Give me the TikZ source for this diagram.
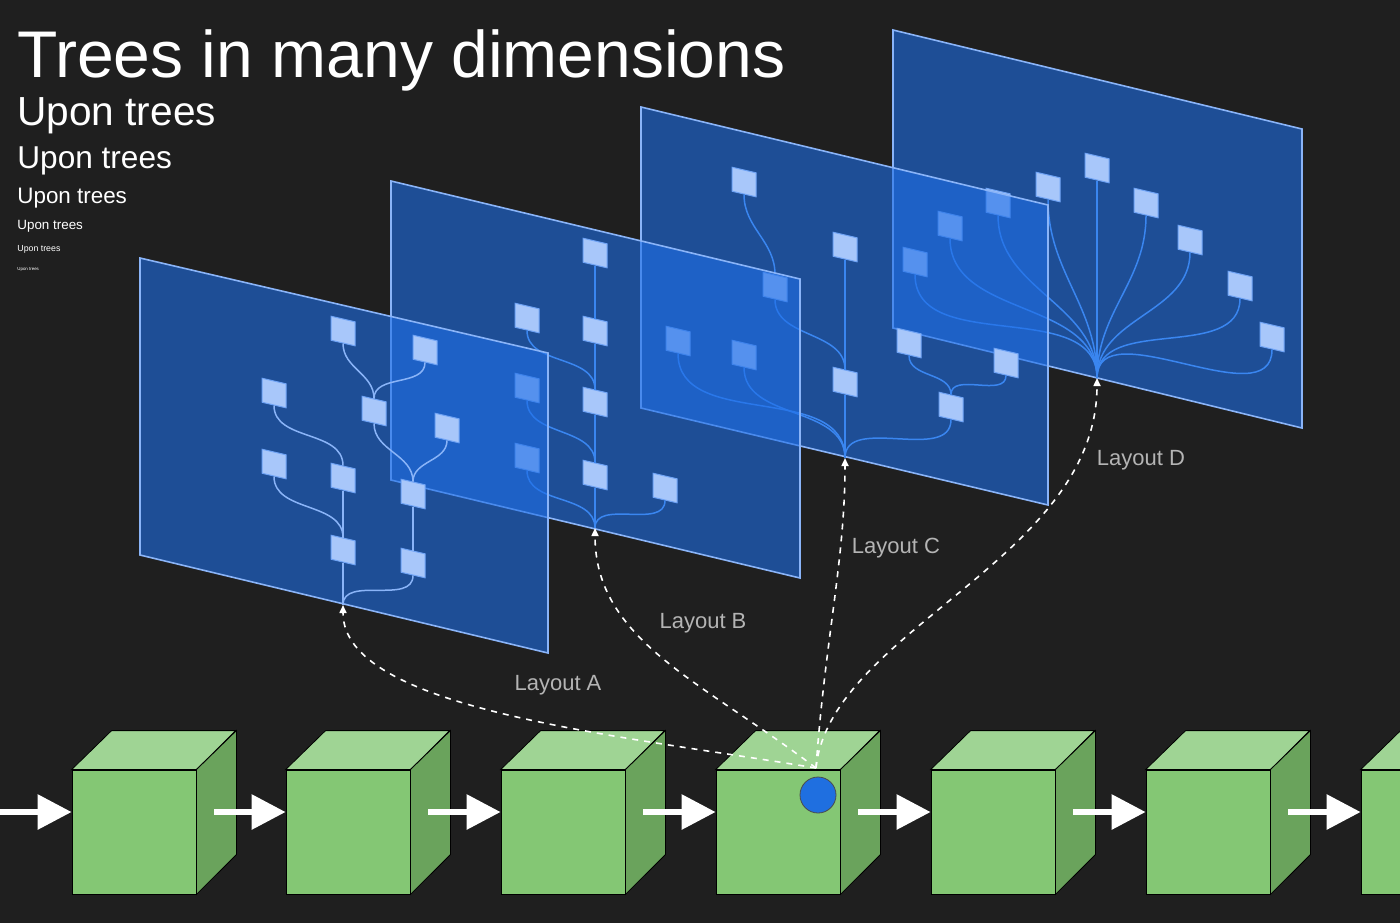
\documentclass[tikz,border=0pt]{standalone}
\usepackage{fontspec}
\setmainfont{Liberation Sans}
\usetikzlibrary{arrows.meta}
\definecolor{bg}{HTML}{1F1F1F}
\definecolor{pl}{HTML}{1E6EE6}
\definecolor{plb}{HTML}{8AB4F8}
\definecolor{nf}{HTML}{A8C7FA}
\definecolor{nb}{HTML}{6FA3F5}
\definecolor{ea}{HTML}{8AB4F8}
\definecolor{eb}{HTML}{3A86F0}
\definecolor{gf}{HTML}{84C774}
\definecolor{gt}{HTML}{9FD494}
\definecolor{gs}{HTML}{6AA35C}
\definecolor{dot}{HTML}{1F6FE0}
\definecolor{lab}{HTML}{B4B4B4}
\begin{document}
\begin{tikzpicture}[x=0.5pt,y=-0.5pt,
  plane/.style={fill=pl,fill opacity=0.6,draw=plb,line width=0.8pt},
  tn/.style={rectangle,minimum size=12pt,inner sep=0pt,fill=nf,draw=nb,line width=0.5pt,yslant=-0.233,transform shape},
  e/.style={line width=0.75pt},
  lay/.style={dashed,draw=white,line width=0.8pt,-{Triangle[length=4pt,width=3.5pt]}},
  big/.style={draw=white,line width=3pt,-{Triangle[length=17pt,width=17pt]}},
  cube/.style={rectangle,minimum size=62pt,inner sep=0pt,fill=gf,draw=black,line width=0.4pt},
  laytxt/.style={text=lab,font=\fontsize{11}{13}\selectfont}
]
\useasboundingbox[fill=bg] (0,0) rectangle (1400,923);
\newcommand{\ted}[3]{\draw[e,#1] (#2.south) to[out=-90,in=90] (#3.north);}
\newcommand{\red}[3]{\draw[e,#1] (#2.south) to[out=-90,in=90] (#3);}

% ---- plane D
\draw[plane] (893,30) -- (1302,129) -- (1302,428) -- (893,328) -- cycle;
\coordinate (rd) at (1097,378);
\foreach \n/\x/\y in {d1/1097/168,d2/1048/187,d3/998/203,d4/950/226,d5/915/262,d6/1146/203,d7/1190/240,d8/1240/286,d9/1272/337}
  \node[tn] (\n) at (\x,\y) {};
\foreach \n in {d1,d2,d3,d4,d5,d6,d7,d8,d9} \red{eb}{\n}{rd};

% ---- plane C
\draw[plane] (641,107) -- (1048,205) -- (1048,505) -- (641,408) -- cycle;
\coordinate (rc) at (845,458);
\foreach \n/\x/\y in {c1/744/182,c2/845/247,c3/775/287,c4/678/341,c5/744/355,c6/845/382,c7/909/343,c8/1006/363,c9/951/407}
  \node[tn] (\n) at (\x,\y) {};
\red{eb}{c6}{rc}\red{eb}{c4}{rc}\red{eb}{c5}{rc}\red{eb}{c9}{rc}
\ted{eb}{c2}{c6}\ted{eb}{c3}{c6}\ted{eb}{c1}{c3}\ted{eb}{c7}{c9}\ted{eb}{c8}{c9}

% ---- plane B
\draw[plane] (391,181) -- (800,279) -- (800,578) -- (391,480) -- cycle;
\coordinate (rb) at (595,528);
\foreach \n/\x/\y in {b1/595/253,b2/527/318,b3/595/331,b4/527/388,b5/595/402,b6/527/458,b7/595/475,b8/665/488}
  \node[tn] (\n) at (\x,\y) {};
\red{eb}{b7}{rb}\red{eb}{b6}{rb}\red{eb}{b8}{rb}
\ted{eb}{b5}{b7}\ted{eb}{b4}{b7}\ted{eb}{b3}{b5}\ted{eb}{b2}{b5}\ted{eb}{b1}{b3}

% ---- plane A
\draw[plane] (140,258) -- (548,353) -- (548,653) -- (140,555) -- cycle;
\coordinate (ra) at (343,605);
\foreach \n/\x/\y in {a1/343/331,a2/425/350,a3/274/393,a4/374/411,a5/447/428,a6/274/464,a7/343/478,a8/413/494,a9/343/550,a10/413/563}
  \node[tn] (\n) at (\x,\y) {};
\red{ea}{a9}{ra}\red{ea}{a10}{ra}
\ted{ea}{a7}{a9}\ted{ea}{a6}{a9}\ted{ea}{a3}{a7}\ted{ea}{a8}{a10}\ted{ea}{a4}{a8}\ted{ea}{a5}{a8}\ted{ea}{a1}{a4}\ted{ea}{a2}{a4}

% ---- cubes
\foreach \i/\x in {1/134,2/348,3/563,4/778,5/993,6/1208,7/1423}{
  \node[cube] (k\i) at (\x,832) {};
  \draw[fill=gt,draw=black,line width=0.4pt] (k\i.north west) -- ++(40,-39) -- ++(124,0) -- (k\i.north east) -- cycle;
  \draw[fill=gs,draw=black,line width=0.4pt] (k\i.north east) -- ++(40,-39) -- ++(0,124) -- (k\i.south east) -- cycle;
}
\coordinate (s0) at (0,812);
\draw[big] (s0) -- ([yshift=10pt]k1.west);
\draw[big] ([xshift=9pt,yshift=10pt]k1.east) -- ([yshift=10pt]k2.west);
\draw[big] ([xshift=9pt,yshift=10pt]k2.east) -- ([yshift=10pt]k3.west);
\draw[big] ([xshift=9pt,yshift=10pt]k3.east) -- ([yshift=10pt]k4.west);
\draw[big] ([xshift=9pt,yshift=10pt]k4.east) -- ([yshift=10pt]k5.west);
\draw[big] ([xshift=9pt,yshift=10pt]k5.east) -- ([yshift=10pt]k6.west);
\draw[big] ([xshift=9pt,yshift=10pt]k6.east) -- ([yshift=10pt]k7.west);

% ---- dot and layout arrows
\node[circle,minimum size=18pt,inner sep=0pt,fill=dot,draw=black!70,line width=0.4pt] (p) at (818,795) {};
\coordinate (ps) at (816,768);
\draw[lay] (ps) .. controls (620,735) and (343,710) .. (ra);
\draw[lay] (ps) .. controls (700,680) and (595,640) .. (rb);
\draw[lay] (ps) .. controls (825,640) and (845,560) .. (rc);
\draw[lay] (ps) .. controls (830,630) and (1097,560) .. (rd);
\node[laytxt] at (558,685) {Layout A};
\node[laytxt] at (703,623) {Layout B};
\node[laytxt] at (896,548) {Layout C};
\node[laytxt] at (1141,460) {Layout D};

% ---- titles
\node[anchor=base west,inner sep=0pt,text=white,font=\fontsize{33}{36}\selectfont] at (17,77) {Trees in many dimensions};
\node[anchor=base west,inner sep=0pt,text=white,font=\fontsize{20.3}{22}\selectfont] at (17,125) {Upon trees};
\node[anchor=base west,inner sep=0pt,text=white,font=\fontsize{15.8}{17}\selectfont] at (17,168) {Upon trees};
\node[anchor=base west,inner sep=0pt,text=white,font=\fontsize{11.2}{13}\selectfont] at (17,203) {Upon trees};
\node[anchor=base west,inner sep=0pt,text=white,font=\fontsize{6.7}{8}\selectfont] at (17,229) {Upon trees};
\node[anchor=base west,inner sep=0pt,text=white,font=\fontsize{4.4}{5}\selectfont] at (17,251) {Upon trees};
\node[anchor=base west,inner sep=0pt,text=white,font=\fontsize{2.2}{3}\selectfont] at (17,270) {Upon trees};
\end{tikzpicture}
\end{document}
